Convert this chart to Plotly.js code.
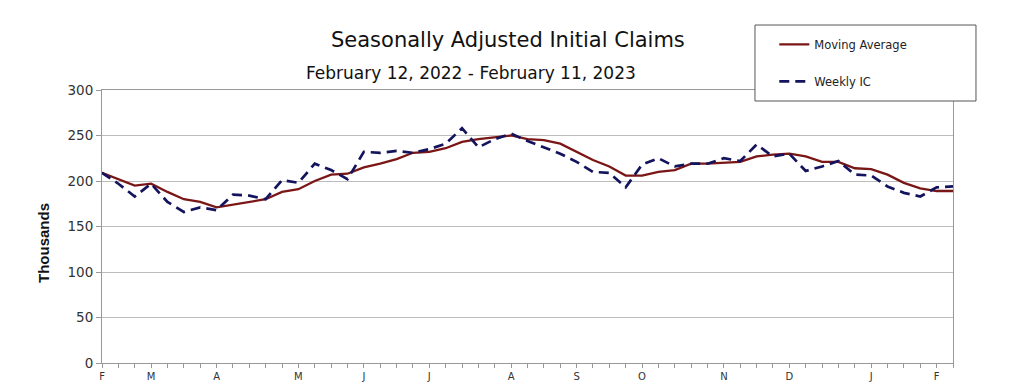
<!DOCTYPE html>
<html>
<head>
<meta charset="utf-8">
<script src="https://cdn.plot.ly/plotly-3.0.1.min.js"></script>
<style>html,body{margin:0;padding:0;background:#fff;}#chart{width:1017px;height:391px;}</style>
</head>
<body>
<div id="chart"></div>
<script>
const weekEnding = [
  '2022-02-12','2022-02-19','2022-02-26','2022-03-05','2022-03-12','2022-03-19','2022-03-26',
  '2022-04-02','2022-04-09','2022-04-16','2022-04-23','2022-04-30','2022-05-07','2022-05-14',
  '2022-05-21','2022-05-28','2022-06-04','2022-06-11','2022-06-18','2022-06-25','2022-07-02',
  '2022-07-09','2022-07-16','2022-07-23','2022-07-30','2022-08-06','2022-08-13','2022-08-20',
  '2022-08-27','2022-09-03','2022-09-10','2022-09-17','2022-09-24','2022-10-01','2022-10-08',
  '2022-10-15','2022-10-22','2022-10-29','2022-11-05','2022-11-12','2022-11-19','2022-11-26',
  '2022-12-03','2022-12-10','2022-12-17','2022-12-24','2022-12-31','2023-01-07','2023-01-14',
  '2023-01-21','2023-01-28','2023-02-04','2023-02-11'
];
const movingAverage = [
  209,202,195,197,188,180,177,171,174,177,180,188,191,200,207,208,215,219,224,231,232,
  236,243,246,248,250,246,245,241,232,223,216,206,206,210,212,219,219,220,221,227,229,
  230,227,221,221,214,213,207,198,192,189,189
];
const weeklyIC = [
  209,197,183,197,177,166,171,168,185,184,180,201,198,219,212,202,232,231,233,231,235,
  241,258,237,246,252,244,237,230,221,210,209,193,218,225,216,219,219,225,222,240,227,
  230,211,216,222,207,206,194,187,183,193,194
];
const tickDates = ['2022-02-12','2022-03-05','2022-04-02','2022-05-07','2022-06-04','2022-07-02',
  '2022-08-06','2022-09-03','2022-10-01','2022-11-05','2022-12-03','2023-01-07','2023-02-04'];
const tickLabels = ['F','M','A','M','J','J','A','S','O','N','D','J','F'];
const yTicks = [0,50,100,150,200,250,300];

const WIDE = '"DejaVu Sans", Verdana, sans-serif';
const ARIAL = 'Arial, "Liberation Sans", sans-serif';

const traces = [
  {
    x: weekEnding, y: movingAverage, type: 'scatter', mode: 'lines',
    name: 'Moving Average', legendgroup: 'ma',
    line: {color: '#7a1616', width: 2.3}
  },
  {
    x: weekEnding, y: weeklyIC, type: 'scatter', mode: 'lines',
    name: 'Weekly IC', legendgroup: 'ic',
    line: {color: '#14145e', width: 2.7, dash: '10px,6px'}
  }
];

const layout = {
  width: 1017, height: 391,
  margin: {l: 102, r: 64, t: 90, b: 28},
  paper_bgcolor: '#ffffff', plot_bgcolor: '#ffffff',
  font: {family: WIDE, color: '#222'},
  showlegend: true,
  legend: {
    x: 0.79, y: 1.22, xanchor: 'left', yanchor: 'top',
    bgcolor: 'rgba(0,0,0,0)', borderwidth: 0,
    font: {family: WIDE, size: 11.5, color: '#222'},
    traceorder: 'grouped', tracegroupgap: 18
  },
  xaxis: {
    type: 'date',
    range: [weekEnding[0], weekEnding[weekEnding.length - 1]],
    tickmode: 'array', tickvals: tickDates, ticktext: tickLabels,
    ticks: 'outside', ticklen: 4, tickcolor: '#999', tickwidth: 1,
    tickfont: {family: WIDE, size: 10, color: '#333'},
    minor: {dtick: 7 * 86400000, tick0: weekEnding[0], ticks: 'outside', ticklen: 4, tickcolor: '#999', showgrid: false},
    showline: true, linecolor: '#999', linewidth: 1, mirror: true,
    showgrid: false, zeroline: false
  },
  yaxis: {
    range: [0, 300],
    tickmode: 'array', tickvals: yTicks,
    ticks: 'outside', ticklen: 5, tickcolor: '#999',
    tickfont: {family: WIDE, size: 13.5, color: '#333'},
    showline: true, linecolor: '#999', linewidth: 1, mirror: true,
    showgrid: true, gridcolor: '#bdbdbd', gridwidth: 1, zeroline: false
  },
  shapes: [
    {type: 'rect', xref: 'paper', yref: 'paper', x0: 0.7673, x1: 1.027, y0: 0.9597, y1: 1.238,
     line: {color: '#555', width: 1}, fillcolor: '#ffffff', layer: 'above'}
  ],
  annotations: [
    {text: 'Seasonally Adjusted Initial Claims', xref: 'paper', yref: 'paper',
     x: 0.477, y: 1.183, xanchor: 'center', yanchor: 'middle', showarrow: false,
     font: {family: WIDE, size: 21, color: '#111'}},
    {text: 'February 12, 2022 - February 11, 2023', xref: 'paper', yref: 'paper',
     x: 0.4336, y: 1.062, xanchor: 'center', yanchor: 'middle', showarrow: false,
     font: {family: WIDE, size: 17, color: '#111'}},
    {text: '<b>Thousands</b>', xref: 'paper', yref: 'paper', textangle: -90,
     x: -0.068, y: 0.44, xanchor: 'center', yanchor: 'middle', showarrow: false,
     font: {family: ARIAL, size: 15, color: '#111'}}
  ]
};

Plotly.newPlot('chart', traces, layout, {displayModeBar: false, staticPlot: true});
</script>
</body>
</html>
